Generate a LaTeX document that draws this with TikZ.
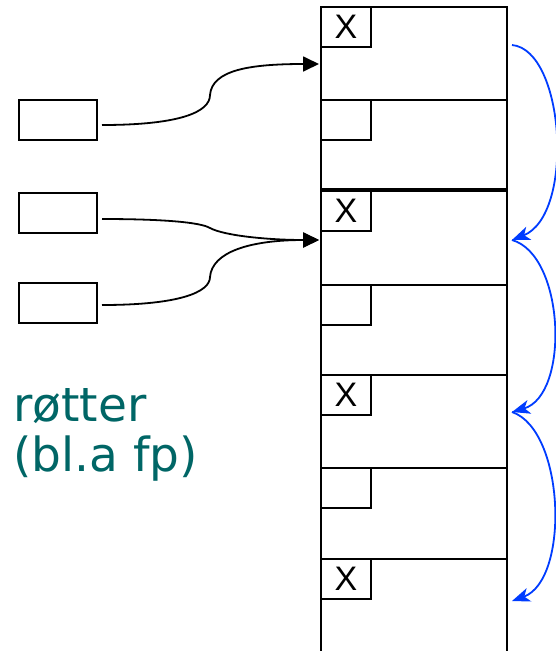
\documentclass[tikz,border=0pt]{standalone}
\usepackage{fontspec}
\setmainfont{DejaVu Sans}
\newfontfamily\xfont{Liberation Sans}
\usetikzlibrary{arrows.meta}
\definecolor{teal1}{RGB}{0,102,102}
\definecolor{blue1}{RGB}{0,60,255}
\begin{document}
\begin{tikzpicture}[x=1pt,y=-1pt,
  cell/.style={draw,line width=1.8pt,anchor=north west,minimum width=186pt,inner sep=0pt,outer sep=0pt},
  tag/.style={draw,line width=1.6pt,anchor=north west,minimum width=50pt,minimum height=40pt,inner sep=0pt,outer sep=0pt,font=\xfont\fontsize{34}{34}\selectfont},
  root/.style={draw,line width=1.6pt,minimum width=78pt,minimum height=40pt,inner sep=0pt,outer sep=0pt},
  ptr/.style={line width=1.8pt,-{Triangle[length=16pt,width=15pt]}},
  link/.style={line width=1.8pt,blue1,-{Stealth[length=18pt,width=14pt,inset=5pt]}}]
\useasboundingbox (0,0) rectangle (556,651);
\fill[white] (0,0) rectangle (556,651);
% column of cells
\node[cell,minimum height=93pt] (b1) at (321,7) {};
\node[cell,minimum height=89pt] (b2) at (321,100) {};
\node[cell,minimum height=94pt] (b3) at (321,191) {};
\node[cell,minimum height=90pt] (b4) at (321,285) {};
\node[cell,minimum height=93pt] (b5) at (321,375) {};
\node[cell,minimum height=91pt] (b6) at (321,468) {};
\node[cell,minimum height=100pt] (b7) at (321,559) {};
% tags
\node[tag] (g1) at (b1.north west) {X};
\node[tag] (g2) at (b2.north west) {};
\node[tag] (g3) at (b3.north west) {X};
\node[tag] (g4) at (b4.north west) {};
\node[tag] (g5) at (b5.north west) {X};
\node[tag] (g6) at (b6.north west) {};
\node[tag] (g7) at (b7.north west) {X};
% roots
\node[root] (r1) at (58,120) {};
\node[root] (r2) at (58,213) {};
\node[root] (r3) at (58,303) {};
\coordinate (t1) at (319,64);
\coordinate (t2) at (319,240);
% pointers
\draw[ptr] ([xshift=5pt,yshift=-5pt]r1.east) .. controls (180,125) and (210,112) .. (210,95)
  .. controls (212,70) and (250,64) .. (t1);
\draw[ptr] ([xshift=5pt,yshift=-6pt]r2.east) .. controls (160,219) and (200,222) .. (210,228)
  .. controls (225,236) and (270,240) .. (t2);
\draw[ptr] ([xshift=5pt,yshift=-2pt]r3.east) .. controls (180,305) and (210,292) .. (210,277)
  .. controls (212,252) and (250,240) .. (t2);
% blue links
\coordinate (s1) at (512,45);
\coordinate (s2) at (512,240);
\coordinate (s3) at (512,412);
\coordinate (s4) at (512,601);
\draw[link] (s1) .. controls (565,50) and (575,215) .. (s2);
\draw[link] (s2) .. controls (565,255) and (570,395) .. (s3);
\draw[link] (s3) .. controls (565,430) and (570,580) .. (s4);
% label
\node[anchor=base west,align=left,text=teal1,font=\fontsize{47}{50}\selectfont,inner sep=0pt] (lab) at (13,471) {røtter\\(bl.a fp)};
\end{tikzpicture}
\end{document}
